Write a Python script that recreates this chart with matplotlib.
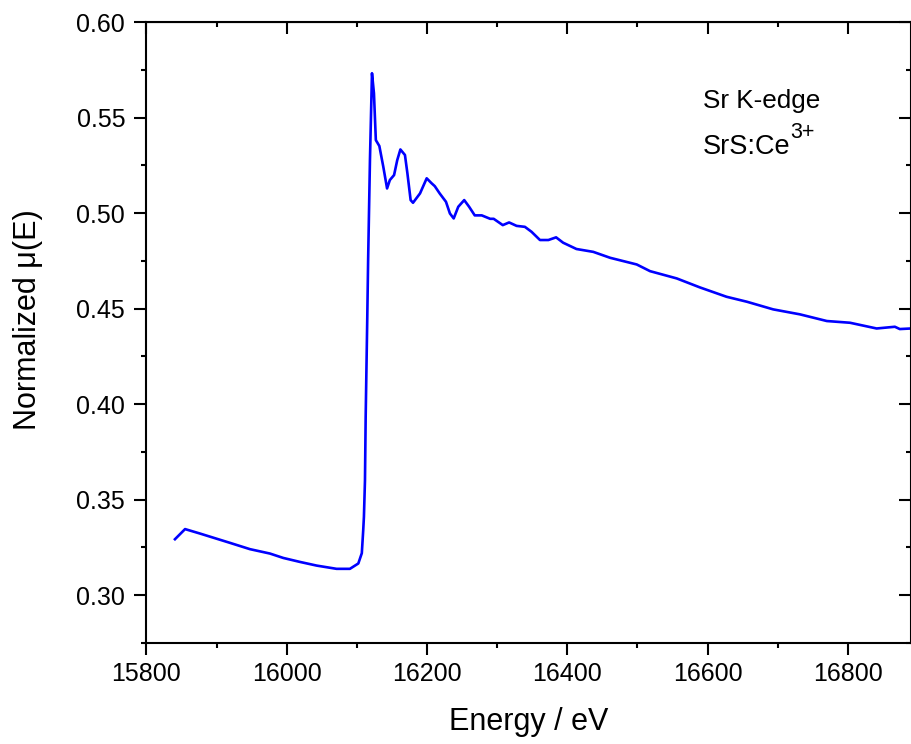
import matplotlib
matplotlib.use('Agg')
import matplotlib.pyplot as plt
from matplotlib.ticker import MultipleLocator, FormatStrFormatter

plt.rcParams['font.family'] = ['Liberation Sans', 'DejaVu Sans']

# Sr K-edge XANES of SrS:Ce3+
energy = [15840.6, 15855, 15876, 15919, 15947.5, 15976, 15995, 16019, 16042.6,
          16071, 16090, 16102, 16107, 16109, 16110, 16111.5, 16112.5, 16114.8,
          16116, 16118.6, 16121.5, 16124.3, 16127, 16132, 16137.6, 16143,
          16147, 16153, 16157.5, 16162, 16168.5, 16172, 16176.6, 16180, 16190,
          16199.5, 16206.5, 16211, 16218, 16227, 16232.6, 16238, 16244.5, 16253,
          16260, 16268, 16278, 16290, 16295, 16308, 16317, 16327.7, 16339.5,
          16349, 16361, 16373, 16384, 16394, 16413, 16437, 16461, 16499, 16518,
          16556, 16589, 16627, 16656, 16693.5, 16731.6, 16770, 16803, 16841,
          16867, 16874, 16890]
mu = [0.3293, 0.3346, 0.3323, 0.3274, 0.3241, 0.3218, 0.3195, 0.3174, 0.3155,
      0.3138, 0.3138, 0.3166, 0.3220, 0.3340, 0.3410, 0.3600, 0.3934, 0.4457,
      0.4754, 0.5277, 0.5732, 0.5627, 0.5382, 0.5351, 0.5243, 0.5129,
      0.5173, 0.5199, 0.5277, 0.5333, 0.5304, 0.5208, 0.5068, 0.5054, 0.5103,
      0.5182, 0.5156, 0.5141, 0.5103, 0.5059, 0.4998, 0.4972, 0.5033, 0.5068,
      0.5033, 0.4988, 0.4988, 0.4970, 0.4970, 0.4937, 0.4951, 0.4933, 0.4928,
      0.4902, 0.4859, 0.4859, 0.4873, 0.4845, 0.4812, 0.4797, 0.4766, 0.4731, 0.4696,
      0.4658, 0.4611, 0.4562, 0.4536, 0.4496, 0.4470, 0.4435, 0.4426, 0.4396,
      0.4405, 0.4393, 0.4396]

fig = plt.figure(figsize=(9.11, 7.44), dpi=100)
ax = fig.add_axes([0.1608, 0.1358, 0.8392, 0.8346])

ax.plot(energy, mu, color='#0000ff', lw=1.9, solid_joinstyle='round')

ax.set_xlim(15800, 16890)
ax.set_ylim(0.275, 0.60)
ax.xaxis.set_major_locator(MultipleLocator(200))
ax.xaxis.set_minor_locator(MultipleLocator(100))
ax.yaxis.set_major_locator(MultipleLocator(0.05))
ax.yaxis.set_minor_locator(MultipleLocator(0.025))
ax.yaxis.set_major_formatter(FormatStrFormatter('%.2f'))

for s in ax.spines.values():
    s.set_linewidth(1.5)
ax.tick_params(which='both', direction='out', width=1.5, labelsize=18)
ax.tick_params(which='major', length=8.3)
ax.tick_params(which='minor', length=3.6)
ax.tick_params(axis='x', pad=5.5)
ax.tick_params(axis='y', pad=7)

# inward ticks on the top and right edges
top = ax.secondary_xaxis('top')
top.xaxis.set_major_locator(MultipleLocator(200))
top.xaxis.set_minor_locator(MultipleLocator(100))
top.tick_params(which='both', direction='in', width=1.5, labeltop=False)
top.tick_params(which='major', length=8.3)
top.tick_params(which='minor', length=3.6)
right = ax.secondary_yaxis('right')
right.yaxis.set_major_locator(MultipleLocator(0.05))
right.yaxis.set_minor_locator(MultipleLocator(0.025))
right.tick_params(which='both', direction='in', width=1.5, labelright=False)
right.tick_params(which='major', length=8.3)
right.tick_params(which='minor', length=3.6)

ax.set_xlabel('Energy / eV', fontsize=22, labelpad=15)
ax.set_ylabel('Normalized μ(E)', fontsize=22)
ax.yaxis.set_label_coords(-0.135, 0.52)

ax.text(0.7275, 0.861, 'Sr K-edge', transform=ax.transAxes, fontsize=18.8,
        va='baseline', ha='left')
main = ax.text(0.7275, 0.7874, 'SrS:Ce', transform=ax.transAxes, fontsize=19.5,
               va='baseline', ha='left')
# superscript charge placed right after the formula
fig.canvas.draw()
bb = main.get_window_extent()
x_end = ax.transAxes.inverted().transform((bb.x1, bb.y0))[0]
ax.annotate('3+', xy=(x_end, 0.7874), xycoords='axes fraction',
            xytext=(0, 11.3), textcoords='offset points', fontsize=15.5,
            va='baseline', ha='left')

fig.savefig('out.png', dpi=100)
